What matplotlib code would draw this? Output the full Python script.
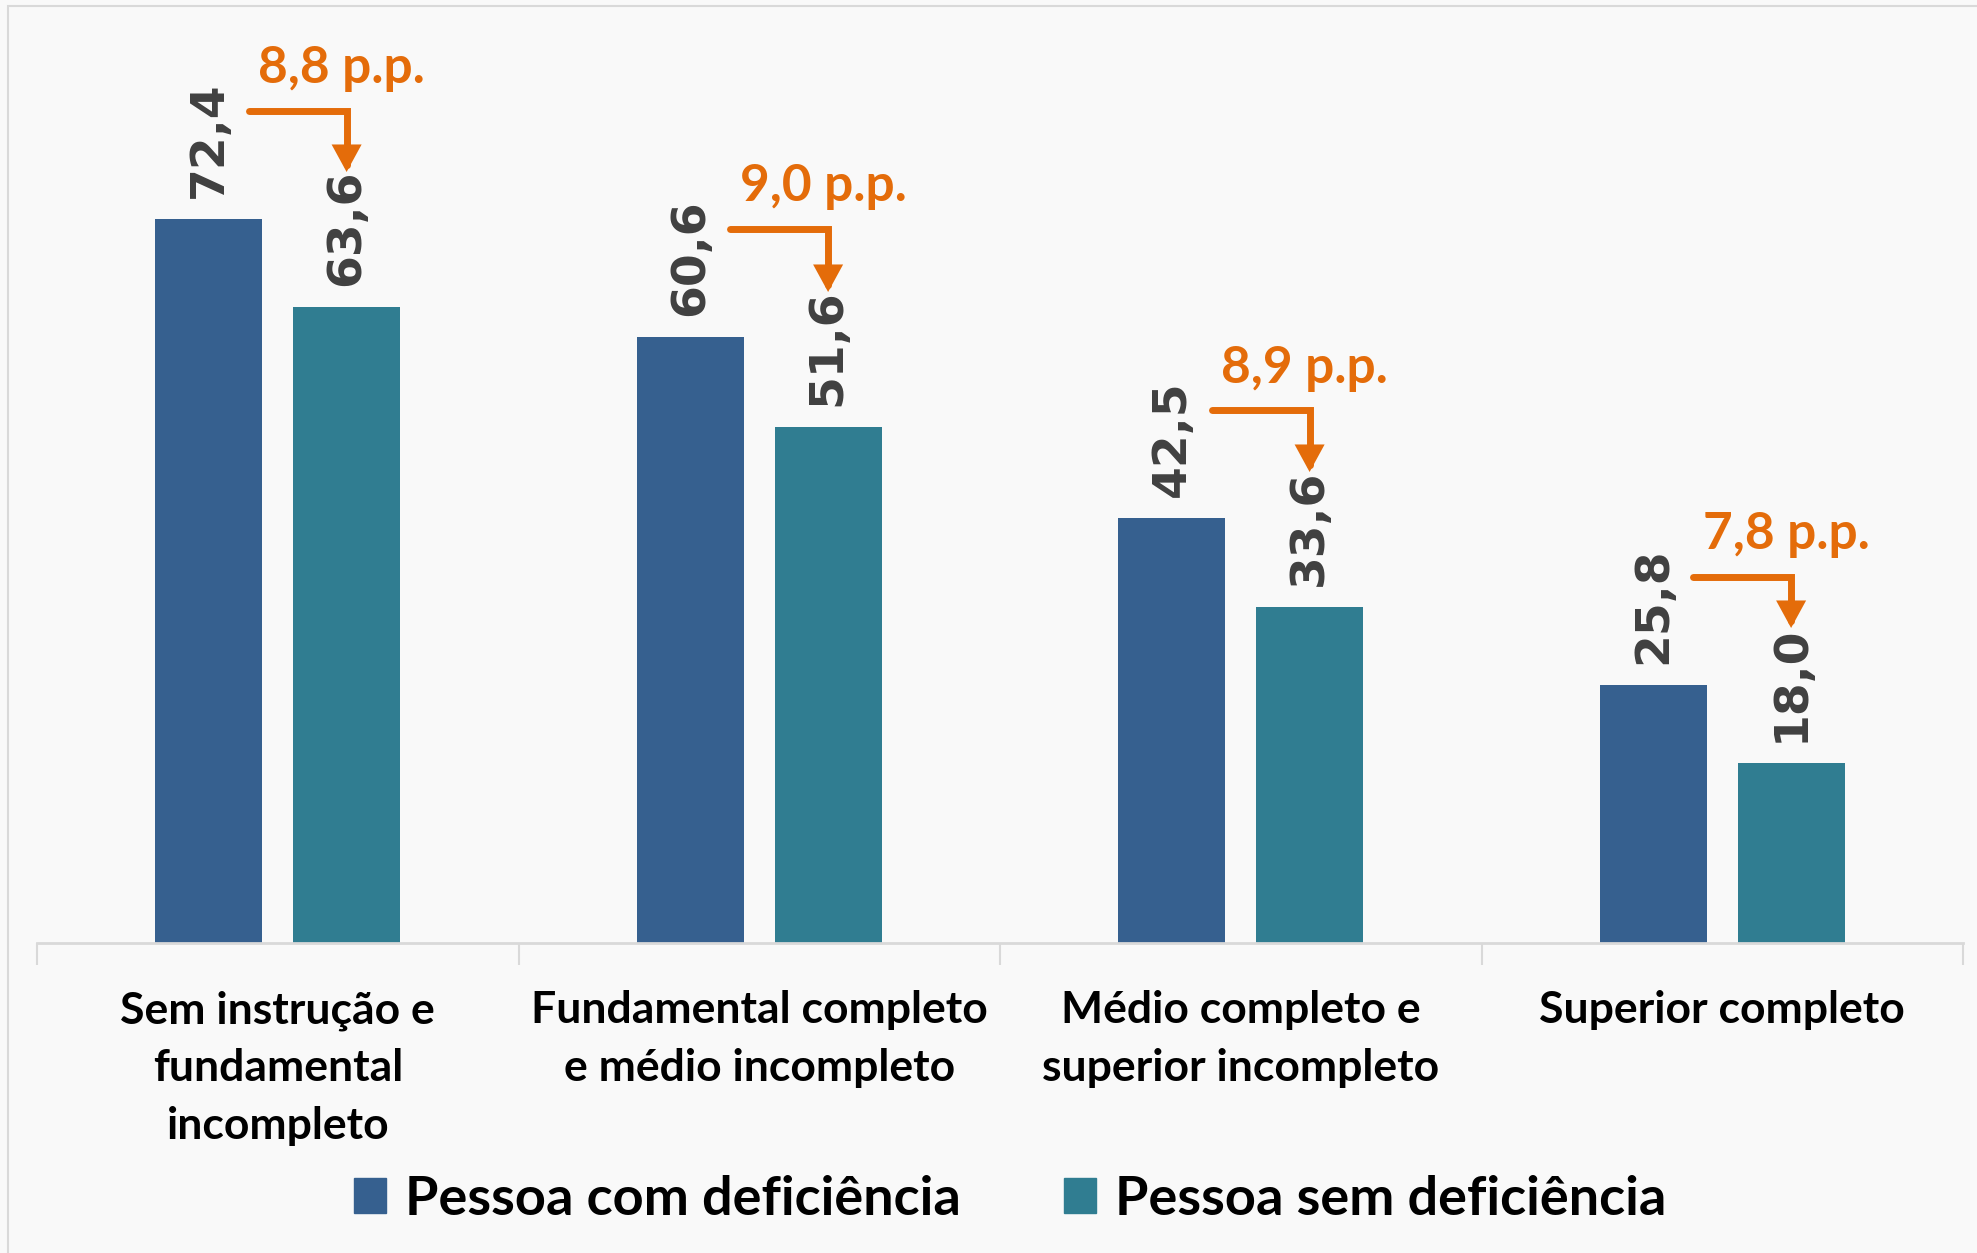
import matplotlib
matplotlib.use("Agg")
import matplotlib.pyplot as plt
from matplotlib.patches import Rectangle, Patch
import numpy as np

categories = ["Sem instrução e\nfundamental\nincompleto",
              "Fundamental completo\ne médio incompleto",
              "Médio completo e\nsuperior incompleto",
              "Superior completo"]
com_def = [72.4, 60.6, 42.5, 25.8]
sem_def = [63.6, 51.6, 33.6, 18.0]
series_names = ["Pessoa com deficiência", "Pessoa sem deficiência"]

blue = "#36608F"
teal = "#307D91"
orange = "#E46C0A"
label_col = "#404040"
bg = "#F9F9F9"
narrow = ["Lato", "DejaVu Sans"]

fig = plt.figure(figsize=(19.77, 12.53), dpi=100, facecolor=bg)
ax = fig.add_axes([37 / 1977, 310 / 1253, 1926 / 1977, 920 / 1253])
ax.set_facecolor(bg)

# thin frame round the chart area
fig.patches.append(Rectangle((8 / 1977, -0.1), 1.2, 1.1 - 6 / 1253,
                             transform=fig.transFigure, fill=False,
                             edgecolor="#D9D9D9", lw=1.5))

x = np.arange(len(categories))
w = 0.222
off = 0.143
b1 = ax.bar(x - off, com_def, w, color=blue, label=series_names[0])
b2 = ax.bar(x + off, sem_def, w, color=teal, label=series_names[1])

ax.set_xlim(-0.5, len(categories) - 0.5)
ax.set_ylim(0, 92)

for bars, vals in ((b1, com_def), (b2, sem_def)):
    for r, v in zip(bars, vals):
        ax.annotate(f"{v:.1f}".replace(".", ","),
                    (r.get_x() + r.get_width() / 2, v),
                    xytext=(0, 15), textcoords="offset points",
                    rotation=90, ha="center", va="bottom",
                    fontsize=34, fontweight="bold", color=label_col,
                    family="DejaVu Sans")

# difference arrows
for i in range(len(categories)):
    v0, v1 = com_def[i], sem_def[i]
    d = v0 - v1
    ax.annotate("", xy=(x[i] + off, v1 + 13.5), xytext=(x[i] - 0.06, v0 + 10.8),
                arrowprops=dict(arrowstyle="-|>,head_length=0.55,head_width=0.3",
                                connectionstyle="angle,angleA=0,angleB=90,rad=0",
                                color=orange, lw=5, mutation_scale=22,
                                shrinkA=0, shrinkB=0, joinstyle="miter"))
    ax.text(x[i] + off - 0.01, v0 + 15.0, f"{d:.1f}".replace(".", ",") + " p.p.",
            ha="center", va="center", fontsize=37, fontweight="bold",
            color=orange, family=narrow)

for s in ["top", "right", "left"]:
    ax.spines[s].set_visible(False)
ax.spines["bottom"].set_color("#D9D9D9")
ax.spines["bottom"].set_linewidth(2)
ax.set_yticks([])

ax.set_xticks(x)
ax.set_xticklabels(categories, fontsize=32, fontweight="bold", family=narrow,
                   linespacing=1.53, va="top")
ax.tick_params(axis="x", which="major", length=0, pad=34)
ax.set_xticks(np.arange(-0.5, len(categories)), minor=True)
ax.tick_params(axis="x", which="minor", length=16, width=1.5, color="#D9D9D9")

handles = [Patch(color=blue), Patch(color=teal)]
fig.legend(handles, series_names, loc="center", bbox_to_anchor=(0.511, 0.043),
           ncol=2, frameon=False, prop={"family": narrow, "weight": "bold", "size": 39},
           handlelength=0.6, handleheight=0.6, handletextpad=0.35, columnspacing=1.9)

fig.savefig("out.png", dpi=100, facecolor=bg)
